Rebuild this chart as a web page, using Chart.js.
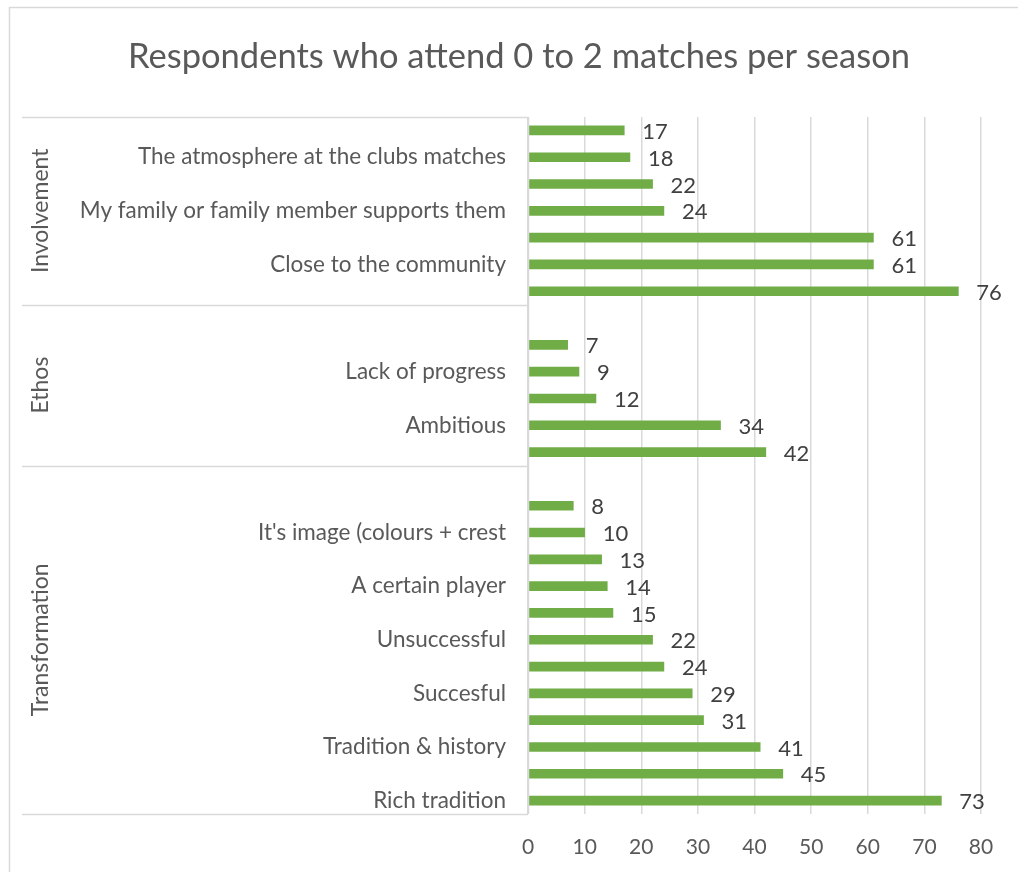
<!DOCTYPE html>
<html>
<head>
<meta charset="utf-8">
<script src="https://cdn.jsdelivr.net/npm/chart.js@4.4.1/dist/chart.umd.min.js"></script>
<style>
  html, body { margin: 0; padding: 0; background: #ffffff; }
  #wrap { width: 1018px; height: 872px; }
</style>
</head>
<body>
<div id="wrap"><canvas id="c" width="1018" height="872"></canvas></div>
<script>
// ---- data (top to bottom) ----
const chartTitle = 'Respondents who attend 0 to 2 matches per season';
const categories = [
  '', 'The atmosphere at the clubs matches', '', 'My family or family member supports them', '', 'Close to the community', '',
  '', '', 'Lack of progress', '', 'Ambitious', '',
  '', '', "It's image (colours + crest", '', 'A certain player', '', 'Unsuccessful', '', 'Succesful', '', 'Tradition & history', '', 'Rich tradition'
];
const values = [
  17, 18, 22, 24, 61, 61, 76,
  null, 7, 9, 12, 34, 42,
  null, 8, 10, 13, 14, 15, 22, 24, 29, 31, 41, 45, 73
];
const groupNames = ['Involvement', 'Ethos', 'Transformation'];
const groupSizes = [7, 6, 13];
const xMin = 0, xMax = 80, xStep = 10;

// ---- styling ----
const FONT = 'Lato, "Liberation Sans", sans-serif';
const GRID = '#D9D9D9';
const TEXT = '#595959';
const LABEL = '#404040';
const BAR = '#70AD47';

const borderPlugin = {
  id: 'outerBorder',
  beforeDraw(chart) {
    const ctx = chart.ctx;
    ctx.save();
    ctx.fillStyle = '#ffffff';
    ctx.fillRect(0, 0, chart.width, chart.height);
    ctx.strokeStyle = GRID;
    ctx.lineWidth = 1.5;
    ctx.strokeRect(9.5, 7.5, chart.width + 20, chart.height + 20);
    // chart title, centred on the chart frame
    ctx.fillStyle = TEXT;
    ctx.font = '34.5px ' + FONT;
    ctx.textAlign = 'center';
    ctx.textBaseline = 'middle';
    ctx.fillText(chartTitle, 519, 57);
    ctx.restore();
  }
};

const groupPlugin = {
  id: 'groupAxis',
  afterDraw(chart) {
    const ctx = chart.ctx;
    const y = chart.scales.y;
    const left = 22;
    const right = chart.chartArea.left;
    const half = (y.getPixelForValue(1) - y.getPixelForValue(0)) / 2;
    ctx.save();
    ctx.strokeStyle = GRID;
    ctx.lineWidth = 1.5;
    let start = 0;
    groupSizes.forEach((size, gi) => {
      const y0 = y.getPixelForValue(start) - half;
      const y1 = y.getPixelForValue(start + size - 1) + half;
      ctx.beginPath();
      ctx.moveTo(left, Math.round(y0) + 0.5);
      ctx.lineTo(right, Math.round(y0) + 0.5);
      ctx.stroke();
      if (gi === groupSizes.length - 1) {
        ctx.beginPath();
        ctx.moveTo(left, Math.round(y1) + 0.5);
        ctx.lineTo(right, Math.round(y1) + 0.5);
        ctx.stroke();
      }
      ctx.save();
      ctx.translate(41, (y0 + y1) / 2);
      ctx.rotate(-Math.PI / 2);
      ctx.fillStyle = TEXT;
      ctx.font = '23px ' + FONT;
      ctx.textAlign = 'center';
      ctx.textBaseline = 'middle';
      ctx.fillText(groupNames[gi], 0, 0);
      ctx.restore();
      start += size;
    });
    // category axis line
    ctx.beginPath();
    ctx.moveTo(Math.round(right) + 0.5, chart.chartArea.top);
    ctx.lineTo(Math.round(right) + 0.5, chart.chartArea.bottom);
    ctx.stroke();
    ctx.restore();
  }
};

const valueLabelPlugin = {
  id: 'valueLabels',
  afterDatasetsDraw(chart) {
    const ctx = chart.ctx;
    const meta = chart.getDatasetMeta(0);
    ctx.save();
    ctx.fillStyle = LABEL;
    ctx.font = '22px ' + FONT;
    ctx.textAlign = 'left';
    ctx.textBaseline = 'middle';
    meta.data.forEach((el, i) => {
      const v = chart.data.datasets[0].data[i];
      if (v === null || v === undefined) return;
      ctx.fillText(String(v), el.x + 18, el.y + 1.5);
    });
    ctx.restore();
  }
};

new Chart(document.getElementById('c'), {
  type: 'bar',
  data: {
    labels: categories,
    datasets: [{
      data: values,
      backgroundColor: BAR,
      borderWidth: 0,
      barThickness: 9
    }]
  },
  options: {
    indexAxis: 'y',
    responsive: false,
    animation: false,
    devicePixelRatio: 1,
    layout: { padding: { left: 0, right: 37, top: 117, bottom: 0 } },
    plugins: {
      legend: { display: false },
      tooltip: { enabled: false },
      title: { display: false }
    },
    scales: {
      x: {
        type: 'linear',
        min: xMin,
        max: xMax,
        ticks: { stepSize: xStep, color: TEXT, font: { family: FONT, size: 21 }, padding: 21 },
        grid: { color: GRID, lineWidth: 1.5, drawTicks: false },
        border: { display: false },
        afterFit(scale) { scale.height = 58; }
      },
      y: {
        type: 'category',
        offset: true,
        ticks: { autoSkip: false, color: TEXT, font: { family: FONT, size: 22.5 }, padding: 22 },
        grid: { display: false, drawTicks: false },
        border: { display: false },
        afterFit(scale) { scale.width = 528; }
      }
    }
  },
  plugins: [borderPlugin, groupPlugin, valueLabelPlugin]
});
</script>
</body>
</html>
